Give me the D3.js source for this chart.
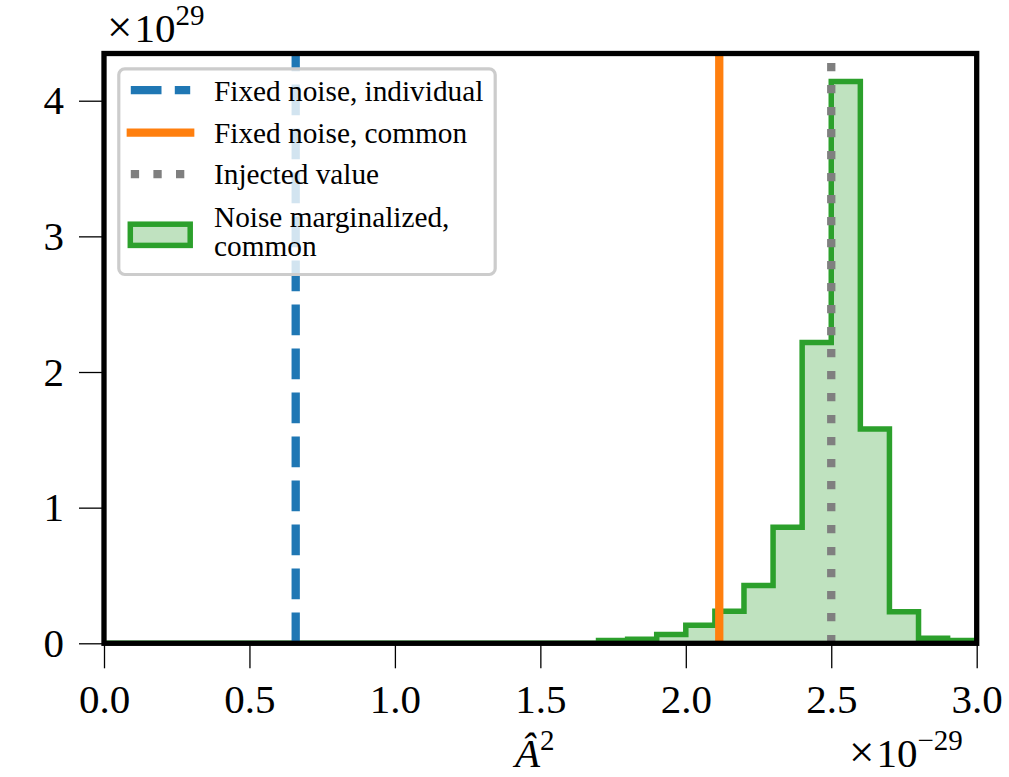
<!DOCTYPE html>
<html>
<head>
<meta charset="utf-8">
<script src="https://cdn.jsdelivr.net/npm/d3@7"></script>
<style>
  html, body { margin: 0; padding: 0; background: #fff; }
  svg { display: block; font-family: "Liberation Serif", "DejaVu Serif", serif; }
</style>
</head>
<body>
<svg id="chart" width="1009" height="777"></svg>
<script>
// Histogram bin edges (units of 1e-29) and normalized densities (units of 1e29)
const binEdges = [0.0, 0.1, 0.2, 0.3, 0.4, 0.5, 0.6, 0.7, 0.8, 0.9, 1.0,
                  1.1, 1.2, 1.3, 1.4, 1.5, 1.6, 1.7, 1.8, 1.9, 2.0,
                  2.1, 2.2, 2.3, 2.4, 2.5, 2.6, 2.7, 2.8, 2.9, 3.0];
const densities = [0, 0, 0, 0, 0, 0, 0, 0, 0, 0,
                   0, 0, 0, 0, 0, 0, 0, 0.02, 0.03, 0.065,
                   0.133, 0.237, 0.426, 0.856, 2.218, 4.141, 1.579, 0.232, 0.037, 0.02];

// Reference values drawn as vertical lines
const fixedIndividual = 0.659;
const fixedCommon = 2.115;
const injectedValue = 2.5;

const xTicks = [0.0, 0.5, 1.0, 1.5, 2.0, 2.5, 3.0];
const yTicks = [0, 1, 2, 3, 4];

const legendLabels = [
  ["Fixed noise, individual"],
  ["Fixed noise, common"],
  ["Injected value"],
  ["Noise marginalized,", "common"]
];

const colors = { blue: "#1f77b4", orange: "#ff7f0e", gray: "#7f7f7f", green: "#2ca02c" };

const svg = d3.select("#chart");
const pLeft = 104, pRight = 976.7, pTop = 53.5, pBottom = 643.3;

const x = d3.scaleLinear().domain([0, 3]).range([pLeft, pRight]);
const y = d3.scaleLinear().domain([0, d3.max(densities) * 1.05]).range([pBottom, pTop]);

svg.append("defs").append("clipPath").attr("id", "plotClip")
  .append("rect").attr("x", pLeft).attr("y", pTop).attr("width", pRight - pLeft).attr("height", pBottom - pTop);

const plot = svg.append("g").attr("clip-path", "url(#plotClip)");

// Step outline points for the histogram
const stepPts = [[binEdges[0], 0]];
densities.forEach((d, i) => {
  stepPts.push([binEdges[i], d]);
  stepPts.push([binEdges[i + 1], d]);
});
stepPts.push([binEdges[binEdges.length - 1], 0]);

const line = d3.line().x(d => x(d[0])).y(d => y(d[1]));

plot.append("path")
  .attr("d", line(stepPts) + "Z")
  .attr("fill", colors.green).attr("fill-opacity", 0.3).attr("stroke", "none");

plot.append("path")
  .attr("d", line(stepPts))
  .attr("fill", "none").attr("stroke", colors.green).attr("stroke-width", 5.5)
  .attr("stroke-linejoin", "miter");

const yMax = y.domain()[1];
function vline(v, color, dash, cap) {
  plot.append("line")
    .attr("x1", x(v)).attr("x2", x(v))
    .attr("y1", y(0)).attr("y2", y(yMax))
    .attr("stroke", color).attr("stroke-width", 8.3)
    .attr("stroke-dasharray", dash)
    .attr("stroke-linecap", cap);
}
vline(fixedIndividual, colors.blue, "30.7 13.3", "butt");
vline(fixedCommon, colors.orange, null, "square");
vline(injectedValue, colors.gray, "8.3 13.7", "butt");

// Axes
const fontSize = 41;
const xAxis = d3.axisBottom(x).tickValues(xTicks).tickFormat(d3.format(".1f"))
  .tickSize(25).tickPadding(16);
const gx = svg.append("g").attr("transform", `translate(0,${pBottom})`).call(xAxis);
gx.select(".domain").remove();
gx.selectAll(".tick line").attr("stroke", "#000").attr("stroke-width", 1.3);
gx.selectAll(".tick text").attr("font-size", fontSize).attr("fill", "#000")
  .attr("font-family", "Liberation Serif").attr("dy", "0.71em");

const yAxis = d3.axisLeft(y).tickValues(yTicks).tickFormat(d3.format("d"))
  .tickSize(25).tickPadding(15);
const gy = svg.append("g").attr("transform", `translate(${pLeft},0)`).call(yAxis);
gy.select(".domain").remove();
gy.selectAll(".tick line").attr("stroke", "#000").attr("stroke-width", 1.3);
gy.selectAll(".tick text").attr("font-size", fontSize).attr("fill", "#000")
  .attr("font-family", "Liberation Serif");

// Frame
svg.append("rect").attr("x", pLeft).attr("y", pTop)
  .attr("width", pRight - pLeft).attr("height", pBottom - pTop)
  .attr("fill", "none").attr("stroke", "#000").attr("stroke-width", 5.3);

// Scientific offset labels: "×10^exp"
function offsetLabel(xPos, yPos, exp) {
  const t = svg.append("text").attr("x", xPos).attr("y", yPos).attr("fill", "#000");
  t.append("tspan").attr("font-size", 45).text("×");
  t.append("tspan").attr("font-size", fontSize).attr("dx", 2).text("10");
  t.append("tspan").attr("font-size", 29).attr("dy", -17).text(exp);
}
offsetLabel(107, 41.7, "29");
offsetLabel(849, 767, "−29");

const xlab = svg.append("text").attr("x", 515).attr("y", 767)
  .attr("font-size", fontSize).attr("fill", "#000");
xlab.append("tspan").attr("font-style", "italic").text("Â");
xlab.append("tspan").attr("font-size", 29).attr("dy", -17).text("2");

// Legend
const lg = svg.append("g");
lg.append("rect").attr("x", 118.8).attr("y", 68.8).attr("width", 376.4).attr("height", 205.7)
  .attr("rx", 6).attr("fill", "#fff").attr("fill-opacity", 0.8)
  .attr("stroke", "#cccccc").attr("stroke-width", 3.2);

const hx0 = 130.8, hx1 = 190.2, tx = 214;
const rowY = [90.2, 132.6, 174.2];
const baselines = [[100.7], [142.7], [184.3], [226.7, 256]];

lg.append("line").attr("x1", hx0).attr("x2", hx1).attr("y1", rowY[0]).attr("y2", rowY[0])
  .attr("stroke", colors.blue).attr("stroke-width", 8.3).attr("stroke-dasharray", "30.7 13.3");
lg.append("line").attr("x1", hx0).attr("x2", hx1).attr("y1", rowY[1]).attr("y2", rowY[1])
  .attr("stroke", colors.orange).attr("stroke-width", 8.3).attr("stroke-linecap", "square");
lg.append("line").attr("x1", hx0).attr("x2", hx1).attr("y1", rowY[2]).attr("y2", rowY[2])
  .attr("stroke", colors.gray).attr("stroke-width", 8.3).attr("stroke-dasharray", "8.3 14.3");
lg.append("rect").attr("x", hx0 - 0.5).attr("y", 224.2).attr("width", hx1 - hx0 + 0.5).attr("height", 21.2)
  .attr("fill", "#c0e2c0").attr("stroke", colors.green).attr("stroke-width", 5.5);

legendLabels.forEach((lines, i) => {
  lines.forEach((t, j) => {
    lg.append("text").attr("x", tx).attr("y", baselines[i][j])
      .attr("font-size", 29.3).attr("fill", "#000").text(t);
  });
});
</script>
</body>
</html>
